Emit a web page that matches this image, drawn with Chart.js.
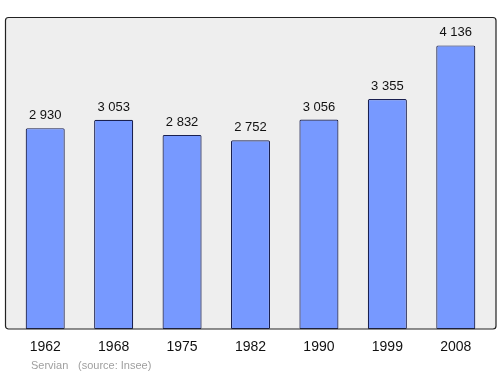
<!DOCTYPE html>
<html>
<head>
<meta charset="utf-8">
<script src="https://cdn.jsdelivr.net/npm/chart.js@4/dist/chart.umd.min.js"></script>
<style>
html,body{margin:0;padding:0;background:#fff;}
#wrap{position:relative;width:500px;height:374px;}
</style>
</head>
<body>
<div id="wrap"><canvas id="c" width="500" height="374"></canvas></div>
<script>
const years = ["1962","1968","1975","1982","1990","1999","2008"];
const population = [2930, 3053, 2832, 2752, 3056, 3355, 4136];
const valueLabels = ["2 930","3 053","2 832","2 752","3 056","3 355","4 136"];
const footerPlace = "Servian";
const footerSource = "(source: Insee)";

const frame = {
  id: 'frame',
  beforeDatasetsDraw(chart) {
    const ctx = chart.ctx;
    ctx.save();
    ctx.fillStyle = '#eeeeee';
    ctx.beginPath();
    ctx.roundRect(5.5, 17.5, 490.5, 311.5, 3);
    ctx.fill();
    ctx.restore();
  },
  afterDatasetsDraw(chart) {
    const ctx = chart.ctx;
    ctx.save();
    ctx.strokeStyle = '#222';
    ctx.lineWidth = 1.2;
    ctx.beginPath();
    ctx.roundRect(5.5, 17.5, 490.5, 311.5, 3);
    ctx.stroke();
    const meta = chart.getDatasetMeta(0);
    ctx.fillStyle = '#111';
    ctx.font = '13px "Liberation Sans", Arial, sans-serif';
    ctx.textAlign = 'center';
    ctx.textBaseline = 'alphabetic';
    meta.data.forEach((bar, i) => {
      ctx.fillText(valueLabels[i], bar.x, bar.y - 9);
    });
    ctx.fillStyle = '#a0a0a0';
    ctx.font = '11px "Liberation Sans", Arial, sans-serif';
    ctx.textAlign = 'left';
    ctx.fillText(footerPlace, 31, 369);
    ctx.fillText(footerSource, 78, 369);
    ctx.restore();
  }
};

new Chart(document.getElementById('c'), {
  type: 'bar',
  data: {
    labels: years,
    datasets: [{
      data: population,
      backgroundColor: '#7799ff',
      borderColor: '#1a2050',
      borderWidth: 1.2,
      borderSkipped: false,
      borderRadius: 1.5,
      barPercentage: 0.571,
      categoryPercentage: 1.0
    }]
  },
  options: {
    responsive: false,
    animation: false,
    layout: { padding: { left: 11, right: 10, top: 17, bottom: 8 } },
    plugins: { legend: { display: false }, tooltip: { enabled: false } },
    scales: {
      x: {
        grid: { display: false, drawTicks: false },
        border: { display: false },
        ticks: { color: '#111', font: { size: 14, family: '"Liberation Sans", Arial, sans-serif' }, padding: 10 }
      },
      y: {
        display: false,
        min: 0,
        max: 4550
      }
    }
  },
  plugins: [frame]
});
</script>
</body>
</html>
